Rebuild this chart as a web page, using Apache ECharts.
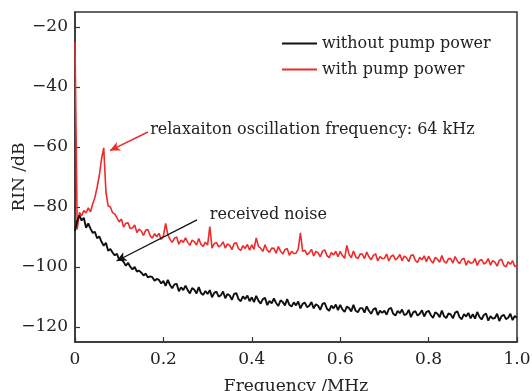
<!DOCTYPE html>
<html><head><meta charset="utf-8">
<script src="https://cdn.jsdelivr.net/npm/echarts@6/dist/echarts.min.js"></script>
<style>html,body{margin:0;padding:0;background:#fff}#c{width:532px;height:391px}</style>
</head><body><div id="c"></div>
<script>
// Frequency sampling grid (MHz), step 0.005 from 0 to 1.0
var freqStep = 0.005;
var freq = [];
for (var k = 0; k <= 200; k++) freq.push(+(k * freqStep).toFixed(3));

var seriesNames = ['without pump power', 'with pump power'];

// RIN without pump power (dB)
var rinWithout = [
-88.0,-84.6,-82.8,-84.5,-83.6,-86.9,-85.5,-87.2,-88.6,-88.3,
-90.4,-89.8,-91.6,-92.9,-91.9,-94.6,-94.0,-95.2,-96.1,-95.6,
-97.6,-97.5,-98.3,-99.6,-98.6,-99.9,-100.8,-100.0,-101.5,-101.2,
-101.9,-102.8,-102.2,-103.5,-103.1,-103.4,-104.6,-104.0,-104.3,-105.5,
-104.6,-106.3,-104.3,-106.0,-107.1,-105.8,-105.6,-108.1,-106.8,-107.7,
-106.2,-107.7,-108.8,-107.0,-107.6,-108.8,-106.7,-108.7,-109.3,-108.0,
-109.0,-107.7,-110.1,-108.6,-108.2,-109.9,-109.4,-108.2,-110.4,-109.0,
-109.5,-110.9,-109.0,-108.7,-110.7,-111.4,-109.8,-110.7,-109.5,-111.4,
-110.1,-111.7,-109.6,-111.2,-112.2,-110.7,-110.3,-112.7,-111.3,-112.1,
-110.5,-112.0,-113.0,-111.1,-111.7,-112.8,-110.7,-112.6,-113.2,-111.8,
-112.8,-111.5,-113.8,-112.3,-111.9,-113.4,-112.9,-111.7,-113.8,-112.4,
-112.9,-114.3,-112.3,-112.0,-113.9,-114.6,-112.9,-113.8,-112.5,-114.4,
-112.6,-114.1,-115.0,-113.2,-113.7,-114.8,-112.6,-114.6,-115.1,-113.7,
-113.7,-115.2,-113.1,-114.6,-115.6,-114.1,-113.7,-116.0,-114.6,-115.3,
-114.6,-115.9,-114.0,-113.6,-115.6,-116.2,-114.6,-115.4,-114.2,-116.0,
-115.7,-114.3,-116.7,-115.1,-114.7,-116.2,-115.6,-114.4,-116.5,-115.0,
-114.6,-116.0,-117.0,-115.1,-115.6,-116.7,-114.5,-116.4,-117.0,-115.5,
-115.8,-117.1,-115.2,-114.8,-116.7,-117.4,-115.7,-116.5,-115.3,-117.1,
-115.7,-117.2,-115.0,-116.6,-117.5,-116.0,-115.5,-117.9,-116.4,-117.2,
-117.0,-115.6,-118.0,-116.4,-115.9,-117.4,-116.9,-115.6,-117.7,-116.3,-116.9
];

// RIN with pump power (dB)
var rinWith = [
-25.0,-87.5,-81.8,-82.9,-81.2,-82.0,-80.3,-81.6,-79.0,-76.8,
-73.5,-69.5,-64.0,-60.3,-75.0,-79.6,-80.0,-81.9,-82.4,-83.6,
-85.0,-84.0,-86.7,-85.4,-85.3,-87.2,-87.0,-86.0,-88.5,-87.4,
-88.0,-89.5,-87.7,-87.5,-89.6,-90.4,-88.9,-89.9,-88.8,-90.8,
-89.7,-85.5,-89.2,-90.8,-91.8,-90.4,-90.0,-92.4,-91.0,-91.8,
-90.3,-91.8,-92.8,-91.0,-91.6,-92.7,-90.5,-92.5,-93.1,-91.7,
-92.7,-86.5,-93.7,-92.2,-91.8,-93.3,-92.8,-91.6,-93.7,-92.3,
-92.8,-94.2,-92.2,-91.9,-93.9,-94.5,-92.9,-93.8,-92.5,-94.4,
-92.6,-94.1,-90.3,-93.1,-93.7,-94.8,-92.6,-94.4,-95.1,-93.7,
-93.8,-95.4,-93.2,-94.7,-95.7,-94.2,-93.8,-96.1,-94.8,-95.5,
-95.4,-94.0,-88.6,-94.8,-94.4,-95.9,-95.3,-94.1,-96.3,-94.8,
-95.3,-96.6,-94.7,-94.3,-96.2,-96.9,-95.2,-96.0,-94.8,-96.6,
-94.8,-96.2,-97.1,-92.8,-95.8,-96.9,-94.7,-96.6,-97.2,-95.7,
-95.7,-97.2,-95.0,-96.6,-97.6,-96.1,-95.6,-98.0,-96.5,-97.2,
-97.1,-95.7,-98.0,-96.5,-96.0,-97.6,-97.0,-95.8,-97.9,-96.4,
-96.9,-98.2,-96.2,-95.9,-97.8,-98.5,-96.8,-97.6,-96.3,-98.2,
-96.4,-97.8,-98.7,-96.8,-97.4,-98.4,-96.2,-98.1,-98.7,-97.2,
-97.2,-98.7,-96.5,-98.0,-98.9,-97.5,-97.1,-99.4,-97.9,-98.7,
-98.6,-97.2,-99.5,-97.9,-97.5,-99.0,-98.5,-97.2,-99.4,-97.9,
-98.4,-99.7,-97.8,-97.4,-99.4,-100.0,-98.3,-99.1,-97.9,-99.8,-99.6
];

var yTicks = [-120, -100, -80, -60, -40, -20];

var annoRelax = 'relaxaiton oscillation frequency: 64 kHz';
var annoNoise = 'received noise';
// annotation anchor points in data space [freq, dB]
var relaxArrowFrom = [0.165, -55.0], relaxArrowTo = [0.079, -61.2], relaxTextAt = [0.170, -54.3];
var noiseArrowFrom = [0.276, -84.3], noiseArrowTo = [0.094, -98.0], noiseTextAt = [0.305, -82.7];

var FONT = 'DejaVu Serif';
var black = '#111111', red = '#ee2a2a';

function zip(xs, ys) { var o = []; for (var i = 0; i < ys.length; i++) o.push([xs[i], ys[i]]); return o; }
function minus(s) { return String(s).replace('-', '\u2212'); }

var chart = echarts.init(document.getElementById('c'), null, {renderer: 'canvas'});
chart.setOption({
  animation: false,
  backgroundColor: '#fff',
  grid: {left: 75, right: 15, top: 12, bottom: 49, containLabel: false, outerBoundsMode: 'none',
    show: true, borderColor: '#333', borderWidth: 1.5},
  legend: {
    orient: 'vertical', left: 282, top: 35, padding: 0, itemWidth: 35, itemHeight: 2, itemGap: 9,
    icon: 'rect',
    data: [{name: seriesNames[0]}, {name: seriesNames[1]}],
    textStyle: {fontFamily: FONT, fontSize: 16, color: '#222', lineHeight: 17}
  },
  xAxis: {
    type: 'value', min: 0, max: 1, interval: 0.2,
    name: 'Frequency /MHz', nameLocation: 'middle', nameGap: 36, nameMoveOverlap: false,
    nameTextStyle: {fontFamily: FONT, fontSize: 17, color: '#222'},
    axisLine: {show: true, lineStyle: {color: '#333', width: 1.5}},
    axisTick: {show: true, inside: true, length: 5, lineStyle: {color: '#333', width: 1.2}},
    axisLabel: {fontFamily: FONT, fontSize: 17, color: '#222', margin: 9,
      formatter: function (v) { return v === 0 ? '0' : v.toFixed(1); }},
    splitLine: {show: false}
  },
  yAxis: {
    type: 'value', min: -125, max: -15,
    name: 'RIN /dB', nameLocation: 'middle', nameGap: 47, nameMoveOverlap: false,
    nameTextStyle: {fontFamily: FONT, fontSize: 17, color: '#222'},
    axisLine: {show: true, lineStyle: {color: '#333', width: 1.5}},
    axisTick: {show: true, inside: true, length: 5, customValues: yTicks, lineStyle: {color: '#333', width: 1.2}},
    axisLabel: {fontFamily: FONT, fontSize: 17, color: '#222', margin: 7, customValues: yTicks,
      formatter: function (v) { return minus(v); }},
    splitLine: {show: false}
  },
  series: [
    {
      name: seriesNames[0], type: 'line', data: zip(freq, rinWithout), showSymbol: false, symbol: 'none',
      lineStyle: {color: black, width: 1.9}, itemStyle: {color: black}, z: 3,
      markLine: {silent: true, symbol: ['none', 'arrow'], symbolSize: [7, 10], label: {show: false},
        lineStyle: {color: black, width: 1.3, type: 'solid'},
        data: [[{coord: noiseArrowFrom}, {coord: noiseArrowTo}]]}
    },
    {
      name: seriesNames[1], type: 'line', data: zip(freq, rinWith), showSymbol: false, symbol: 'none',
      lineStyle: {color: red, width: 1.6}, itemStyle: {color: red}, z: 2,
      markLine: {silent: true, symbol: ['none', 'arrow'], symbolSize: [7, 10], label: {show: false},
        lineStyle: {color: red, width: 1.5, type: 'solid'},
        data: [[{coord: relaxArrowFrom}, {coord: relaxArrowTo}]]}
    }
  ]
});

var p1 = chart.convertToPixel({gridIndex: 0}, relaxTextAt);
var p2 = chart.convertToPixel({gridIndex: 0}, noiseTextAt);
chart.setOption({
  graphic: [
    {type: 'text', x: p1[0], y: p1[1], style: {text: annoRelax, fontFamily: FONT, fontSize: 16, fill: '#222', verticalAlign: 'middle', align: 'left'}},
    {type: 'text', x: p2[0], y: p2[1], style: {text: annoNoise, fontFamily: FONT, fontSize: 16, fill: '#222', verticalAlign: 'middle', align: 'left'}}
  ]
});
</script>
</body></html>
